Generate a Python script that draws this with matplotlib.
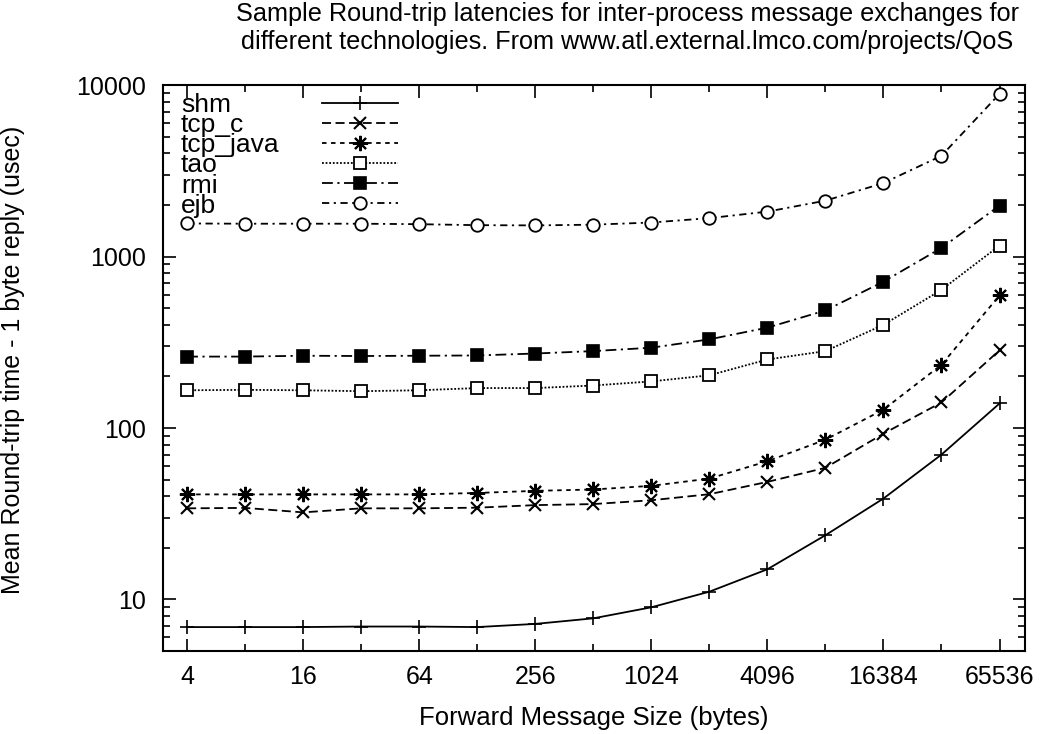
import numpy as np
import matplotlib.pyplot as plt
from matplotlib.lines import Line2D
from matplotlib.ticker import FixedLocator, NullFormatter, LogLocator

plt.rcParams['font.family'] = ['Liberation Sans', 'DejaVu Sans']

# forward message sizes (bytes)
sizes = [4, 8, 16, 32, 64, 128, 256, 512, 1024, 2048, 4096, 8192, 16384, 32768, 65536]

# mean round-trip latency (usec)
shm      = [6.9, 6.9, 6.9, 6.95, 6.95, 6.9, 7.2, 7.76, 9.0, 11.1, 15.0, 23.7, 38.8, 70, 139]
tcp_c    = [34, 34.2, 32.2, 34, 34, 34.3, 35.5, 36, 37.9, 41.1, 48.5, 58.6, 92.7, 141, 284]
tcp_java = [41, 41, 41, 41, 41, 41.8, 43, 43.8, 46, 50.7, 64, 85.5, 128, 234, 593]
tao      = [166, 167, 166, 164, 166, 171, 171, 177, 187, 203, 251, 281, 400, 640, 1159]
rmi      = [261, 261, 264, 263, 264, 265, 272, 281, 294, 329, 385, 485, 714, 1124, 1982]
ejb      = [1560, 1555, 1555, 1555, 1545, 1525, 1520, 1535, 1580, 1676, 1829, 2119, 2685, 3874, 8897]

names = ['shm', 'tcp_c', 'tcp_java', 'tao', 'rmi', 'ejb']
xticks = [4, 16, 64, 256, 1024, 4096, 16384, 65536]
xminor = [8, 32, 128, 512, 2048, 8192, 32768]

fig = plt.figure(figsize=(10.45, 7.34), dpi=100)
ax = fig.add_axes([0.156, 0.113, 0.825, 0.771])

styles = [
    dict(ls='-', marker='+', ms=10, mew=1.2),
    dict(ls=(0, (5, 2.5)), marker='x', ms=9, mew=1.5),
    dict(ls=(0, (2.5, 2.5)), marker=(8, 2, 0), ms=11, mew=1.5),
    dict(ls=(0, (1, 1)), marker='s', ms=9, mew=1.3, mfc='white'),
    dict(ls=(0, (6, 2.5, 1.2, 2.5)), marker='s', ms=9, mew=1.2, mfc='black'),
    dict(ls=(0, (4, 2.5, 1.2, 2.5)), marker='o', ms=9, mew=1.3, mfc='white'),
]
series = [shm, tcp_c, tcp_java, tao, rmi, ejb]
lines = []
for name, vals, st in zip(names, series, styles):
    ln, = ax.plot(sizes, vals, color='black', lw=1.3, label=name, **st)
    lines.append(ln)

ax.set_xscale('log', base=2)
ax.set_yscale('log')
ax.set_xlim(3, 89000)
ax.set_ylim(5, 10000)

ax.xaxis.set_major_locator(FixedLocator(xticks))
ax.xaxis.set_minor_locator(FixedLocator(xminor))
ax.set_xticklabels([str(t) for t in xticks])
ax.xaxis.set_minor_formatter(NullFormatter())
ax.yaxis.set_major_locator(FixedLocator([10, 100, 1000, 10000]))
ax.yaxis.set_minor_locator(LogLocator(base=10, subs=np.arange(2, 10), numticks=20))
ax.set_yticklabels(['10', '100', '1000', '10000'])
ax.yaxis.set_minor_formatter(NullFormatter())

ax.tick_params(which='both', direction='in', top=True, right=True, width=1.2, labelsize=18)
ax.tick_params(which='major', length=9)
ax.tick_params(which='minor', length=5)
ax.tick_params(axis='x', which='major', pad=10)
ax.tick_params(axis='y', which='major', pad=12)
for sp in ax.spines.values():
    sp.set_linewidth(1.5)

ax.set_xlabel('Forward Message Size (bytes)', fontsize=18.5)
ax.xaxis.set_label_coords(0.5, -0.097)
ax.set_ylabel('Mean Round-trip time - 1 byte reply (usec)', fontsize=18)
ax.yaxis.set_label_coords(-0.16, 0.514)

fig.text(0.6, 0.997, 'Sample Round-trip latencies for inter-process message exchanges for\n'
         'different technologies. From www.atl.external.lmco.com/projects/QoS',
         ha='center', va='top', fontsize=18.2, linespacing=1.2)

# gnuplot-style key: labels left-aligned, samples in a column to the right
blank = [Line2D([], [], alpha=0) for _ in names]
leg_kw = dict(frameon=False, fontsize=19, labelspacing=-0.147, borderpad=0, borderaxespad=0,
              loc='upper left')
leg1 = ax.legend(blank, names, handlelength=0, handletextpad=0,
                 bbox_to_anchor=(0.021, 0.986), **leg_kw)
ax.add_artist(leg1)
ax.legend(lines, [''] * len(names), handlelength=2.9, handletextpad=0,
          bbox_to_anchor=(0.184, 0.986), **leg_kw)

fig.savefig('out.png', dpi=100)
